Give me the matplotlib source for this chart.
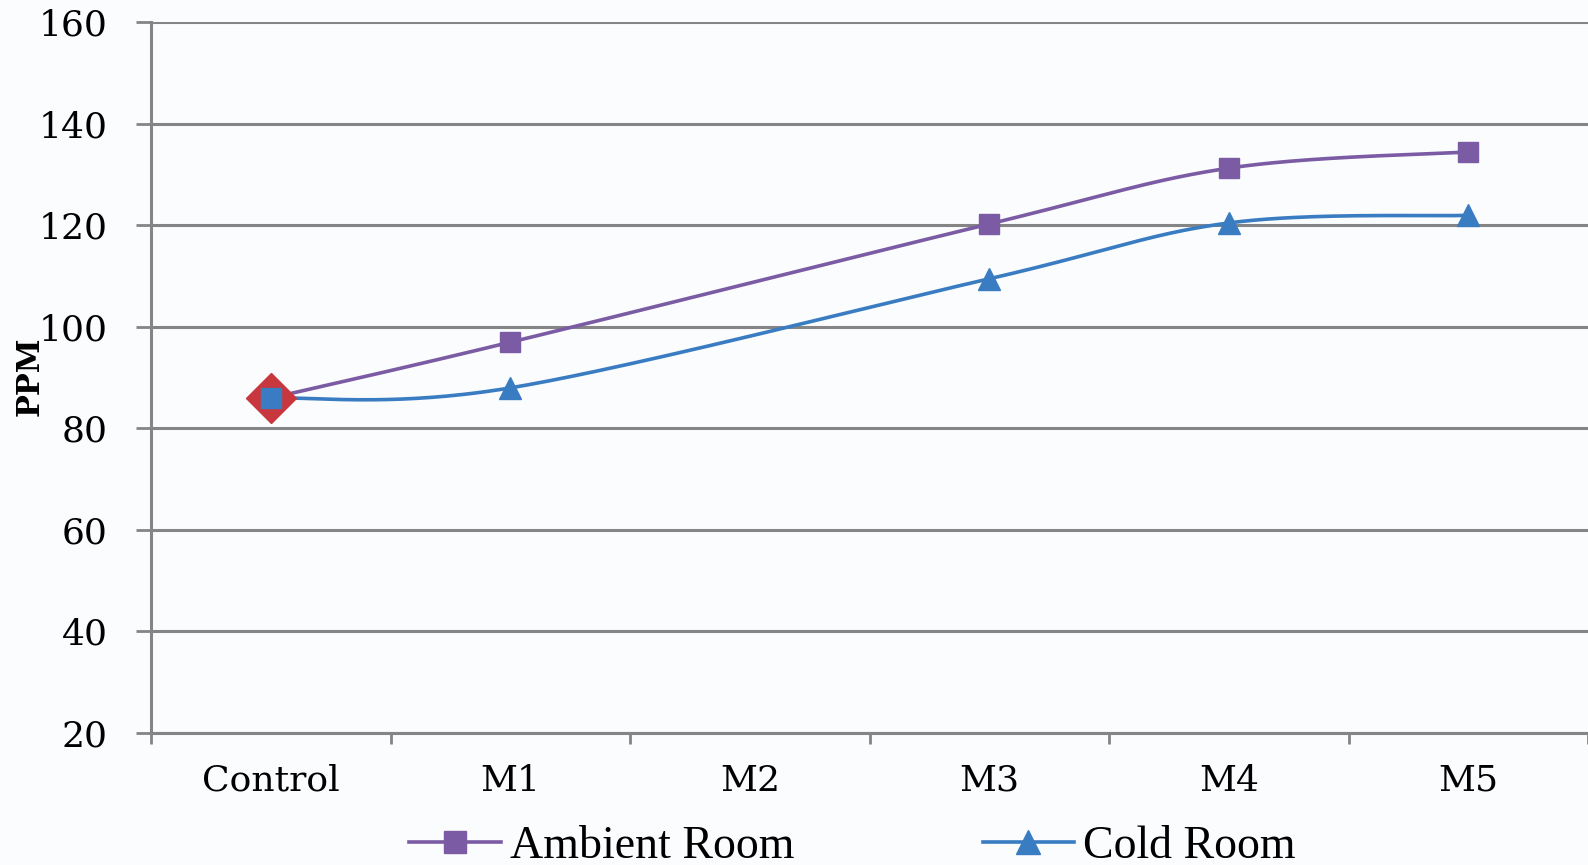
import numpy as np
import matplotlib.pyplot as plt

categories = ['Control', 'M1', 'M2', 'M3', 'M4', 'M5']
ambient = [86, 97, None, 120.3, 131.3, 134.5]
cold = [86, 88, None, 109.5, 120.5, 122]
yticks = [20, 40, 60, 80, 100, 120, 140, 160]

purple = '#7B5BA3'
blue = '#3A7CC2'
red = '#C8373E'
grey = '#858585'


def smooth(xs, ys, n=60):
    # Catmull-Rom through the points, like a spreadsheet "smoothed line"
    p = np.column_stack([xs, ys]).astype(float)
    p = np.vstack([p[0], p, p[-1]])
    out = []
    for i in range(1, len(p) - 2):
        p0, p1, p2, p3 = p[i - 1], p[i], p[i + 1], p[i + 2]
        t = np.linspace(0, 1, n)[:, None]
        c = 0.5 * ((2 * p1) + (-p0 + p2) * t + (2 * p0 - 5 * p1 + 4 * p2 - p3) * t ** 2
                   + (-p0 + 3 * p1 - 3 * p2 + p3) * t ** 3)
        out.append(c)
    c = np.vstack(out)
    return c[:, 0], c[:, 1]


fig = plt.figure(figsize=(15.88, 8.65), dpi=100)
fig.patch.set_facecolor('#fafcfd')
ax = fig.add_axes([0.0951, 0.1526, 0.9049, 0.8214])
ax.set_facecolor('#fafcfd')

for vals, col, mk, ms in [(ambient, purple, 's', 15), (cold, blue, '^', 16)]:
    xs = [i for i, v in enumerate(vals) if v is not None]
    ys = [v for v in vals if v is not None]
    sx, sy = smooth(xs, ys)
    ax.plot(sx, sy, color=col, lw=2.6, zorder=3)
    ax.plot(xs[1:], ys[1:], ls='none', marker=mk, ms=ms, color=col, zorder=4)

# control point marker
ax.plot(0, ambient[0], marker='D', ms=25, color=red, ls='none', zorder=5, clip_on=False)
ax.plot(0, cold[0], marker='s', ms=14, color=blue, ls='none', zorder=6, clip_on=False)

# legend handles
ax.plot([], [], color=purple, lw=2.6, marker='s', ms=16, label='Ambient Room')
ax.plot([], [], color=blue, lw=2.6, marker='^', ms=17, label='Cold Room')

ax.set_xlim(-0.5, 5.5)
ax.set_ylim(20, 160)
ax.set_yticks(yticks)
ax.set_yticklabels([str(v) for v in yticks], fontsize=26, family='DejaVu Serif')
ax.grid(axis='y', color=grey, lw=2.2)
ax.set_axisbelow(True)

ax.set_xticks(np.arange(-0.5, 6, 1))
ax.set_xticklabels([])
ax.set_xticks(range(len(categories)), minor=True)
ax.set_xticklabels(categories, minor=True, fontsize=26, family='DejaVu Serif')
ax.tick_params(axis='x', which='major', length=8, width=2, color=grey)
ax.tick_params(axis='x', which='minor', length=0, pad=22)
ax.tick_params(axis='y', length=11, width=2, color=grey, pad=20)

for s in ['top', 'right']:
    ax.spines[s].set_visible(False)
for s in ['left', 'bottom']:
    ax.spines[s].set_color(grey)
    ax.spines[s].set_linewidth(2.2)

fig.text(0.019, 0.565, 'PPM', rotation=90, ha='center', va='center',
         fontsize=22, fontweight='bold', family='DejaVu Serif')

handles, labels = ax.get_legend_handles_labels()
fig.legend(handles[-2:], labels[-2:], loc='center', bbox_to_anchor=(0.537, 0.021), ncol=2,
           frameon=False, handlelength=2.0, handletextpad=0.2, columnspacing=4.1,
           prop={'family': 'Liberation Serif', 'size': 33})

fig.savefig('out.png', facecolor=fig.get_facecolor())
